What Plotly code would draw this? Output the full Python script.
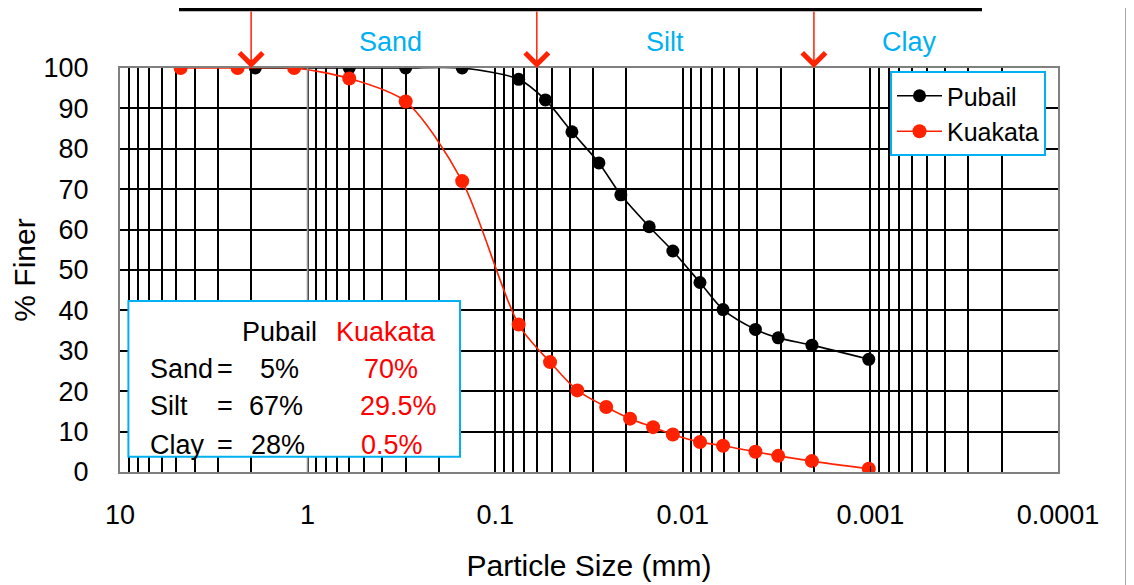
import math
import plotly.graph_objects as go

# ---------------- data ----------------
pubail_size_mm = [1.9, 0.6, 0.3, 0.15, 0.075, 0.054, 0.039, 0.028, 0.0214, 0.0151,
                  0.0113, 0.0081, 0.0061, 0.0041, 0.0031, 0.00205, 0.00102]
pubail_finer = [100, 100, 100, 100, 97.2, 92.1, 84.2, 76.5, 68.6, 60.7,
                54.7, 46.9, 40.2, 35.3, 33.2, 31.4, 27.9]

kuakata_size_mm = [4.75, 2.36, 1.18, 0.6, 0.3, 0.15, 0.075, 0.051, 0.0365, 0.0256,
                   0.0191, 0.0144, 0.0113, 0.0081, 0.0061, 0.0041, 0.0031, 0.00205, 0.00102]
kuakata_finer = [100, 100, 100, 97.4, 91.7, 72.0, 36.5, 27.2, 20.2, 16.1,
                 13.2, 11.1, 9.3, 7.4, 6.5, 5.0, 4.0, 2.7, 0.8]

boundaries_mm = [2, 0.06, 0.002]          # gravel/sand, sand/silt, silt/clay
zone_labels = ["Sand", "Silt", "Clay"]

x_decade_labels = ["10", "1", "0.1", "0.01", "0.001", "0.0001"]
x_decades = [10, 1, 0.1, 0.01, 0.001, 0.0001]
y_ticks = [0, 10, 20, 30, 40, 50, 60, 70, 80, 90, 100]

table_rows = ["Sand", "Silt", "Clay"]
table_pubail = ["5%", "67%", "28%"]
table_kuakata = ["70%", "29.5%", "0.5%"]

# ---------------- styling ----------------
NARROW = "Liberation Sans Narrow, Arial Narrow, Liberation Sans, Arial, sans-serif"
REG = "Liberation Sans, Arial, sans-serif"
RED = "#FF2200"
BLUE = "#00B0F0"
FS = 27   # body text size

# the page body adds an 8 px offset; layout numbers below are page pixels
OFF = 8
W, H = 1134 - OFF, 585 - OFF
ML, MT = 120 - OFF, 68 - OFF
PW, PH = 938, 404
MR, MB = W - ML - PW, H - MT - PH


def px(x):
    return (x - OFF - ML) / PW


def py(y):
    return (H - MB - (y - OFF)) / PH


# tick positions: decades plus 2..9 minor lines
tickvals, ticktext = [], []
for i, d in enumerate(x_decades):
    tickvals.append(d)
    ticktext.append(x_decade_labels[i])
    if i < len(x_decades) - 1:
        nxt = x_decades[i + 1]
        for m in range(2, 10):
            tickvals.append(m * nxt)
            ticktext.append("")

fig = go.Figure()
fig.add_trace(go.Scatter(
    x=pubail_size_mm, y=pubail_finer, name="Pubail", mode="lines+markers",
    line=dict(color="black", width=1.6, shape="spline", smoothing=0.8),
    marker=dict(color="black", size=13),
))
fig.add_trace(go.Scatter(
    x=kuakata_size_mm, y=kuakata_finer, name="Kuakata", mode="lines+markers",
    line=dict(color=RED, width=1.6, shape="spline", smoothing=0.8),
    marker=dict(color=RED, size=14),
))

shapes = []
# gray grid line at 1 mm
shapes.append(dict(type="line", xref="paper", yref="paper", x0=0.2, x1=0.2, y0=0, y1=1,
                   line=dict(color="#999999", width=1.8), layer="above"))
# summary box
shapes.append(dict(type="rect", xref="paper", yref="paper",
                   x0=px(128.4), x1=px(460), y0=py(456.7), y1=py(301),
                   fillcolor="white", line=dict(color=BLUE, width=2), layer="above"))
# decorative frame pieces of the original slide
shapes.append(dict(type="rect", xref="paper", yref="paper",
                   x0=px(179), x1=px(982), y0=py(11.3), y1=py(8),
                   fillcolor="black", line=dict(width=0)))
shapes.append(dict(type="line", xref="paper", yref="paper",
                   x0=px(1126), x1=px(1126), y0=py(585), y1=py(8),
                   line=dict(color="#8a8a8a", width=1.5)))

annotations = []
# boundary arrows
for b in boundaries_mm:
    annotations.append(dict(x=math.log10(b), y=100, xref="x", yref="y", text="",
                            showarrow=True, arrowhead=4, arrowsize=3, arrowwidth=1.5,
                            arrowcolor=RED, ax=0, ay=-58, standoff=0))
# zone labels
zone_px = [390, 665, 909]
for lab, xp in zip(zone_labels, zone_px):
    annotations.append(dict(x=px(xp), y=py(42), xref="paper", yref="paper", text=lab,
                            showarrow=False, font=dict(family=NARROW, size=FS, color=BLUE),
                            xanchor="center", yanchor="middle"))
# summary table
annotations.append(dict(x=px(279.4), y=py(331.7), xref="paper", yref="paper", text="Pubail",
                        showarrow=False, font=dict(family=NARROW, size=FS, color="black"),
                        xanchor="center", yanchor="middle"))
annotations.append(dict(x=px(385.5), y=py(331.7), xref="paper", yref="paper", text="Kuakata",
                        showarrow=False, font=dict(family=NARROW, size=FS, color="#FF0000"),
                        xanchor="center", yanchor="middle"))
row_y = [369, 406, 445]
kuak_x = [390.6, 398.4, 392.4]
pub_x = [279.2, 276.3, 278]
for i in range(3):
    annotations.append(dict(x=px(148), y=py(row_y[i]), xref="paper", yref="paper",
                            text=table_rows[i], showarrow=False,
                            font=dict(family=NARROW, size=FS, color="black"),
                            xanchor="left", yanchor="middle"))
    annotations.append(dict(x=px(225), y=py(row_y[i]), xref="paper", yref="paper",
                            text="=", showarrow=False,
                            font=dict(family=NARROW, size=FS, color="black"),
                            xanchor="center", yanchor="middle"))
    annotations.append(dict(x=px(pub_x[i]), y=py(row_y[i]), xref="paper", yref="paper",
                            text=table_pubail[i], showarrow=False,
                            font=dict(family=NARROW, size=FS, color="black"),
                            xanchor="center", yanchor="middle"))
    annotations.append(dict(x=px(kuak_x[i]), y=py(row_y[i]), xref="paper", yref="paper",
                            text=table_kuakata[i], showarrow=False,
                            font=dict(family=NARROW, size=FS, color="#FF0000"),
                            xanchor="center", yanchor="middle"))

fig.update_layout(
    width=W, height=H,
    margin=dict(l=ML, r=MR, t=MT, b=MB, pad=0, autoexpand=False),
    paper_bgcolor="white", plot_bgcolor="white",
    showlegend=True,
    legend=dict(x=px(1046), y=py(71), xanchor="right", yanchor="top",
                bgcolor="white", bordercolor=BLUE, borderwidth=2,
                font=dict(family=NARROW, size=25, color="black"),
                itemwidth=45, tracegroupgap=0),
    shapes=shapes,
    annotations=annotations,
    xaxis=dict(type="log", range=[1, -4], tickmode="array", tickvals=tickvals,
               ticktext=ticktext, showgrid=True, gridcolor="black", gridwidth=1.8,
               ticks="inside", ticklen=6, tickcolor="black", tickwidth=1,
               showline=True, linecolor="#808080", linewidth=2, mirror=True,
               tickfont=dict(family=NARROW, size=FS, color="black"),
               ticklabelstandoff=18, automargin=False,
               title=dict(text="Particle Size (mm)", font=dict(family=REG, size=30, color="black"),
                          standoff=26),
               zeroline=False),
    yaxis=dict(range=[0, 100], tickmode="array", tickvals=y_ticks,
               showgrid=True, gridcolor="black", gridwidth=1.8,
               ticks="", showline=True, linecolor="#808080", linewidth=2, mirror=True,
               tickfont=dict(family=NARROW, size=FS, color="black"),
               ticklabelstandoff=24, automargin=False,
               title=dict(text="% Finer", font=dict(family=REG, size=30, color="black"),
                          standoff=0),
               zeroline=False),
)

fig.write_html("out.html")
